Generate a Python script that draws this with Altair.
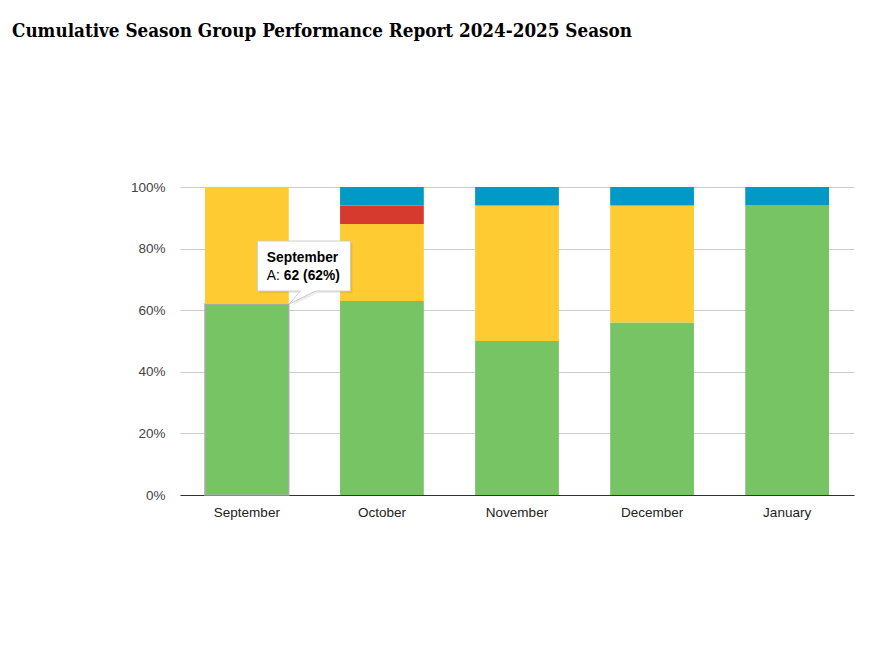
import altair as alt
import pandas as pd

months = ["September", "October", "November", "December", "January"]
series = ["A", "B", "C", "D"]
colors = ["#77c465", "#fecb32", "#d63a2f", "#019ac6"]
vals_A = [62, 63, 50, 56, 94]
vals_B = [38, 25, 44, 38, 0]
vals_C = [0, 6, 0, 0, 0]
vals_D = [0, 6, 6, 6, 6]

rows = []
for si, (s, vals) in enumerate(zip(series, [vals_A, vals_B, vals_C, vals_D])):
    for m, v in zip(months, vals):
        rows.append({"month": m, "series": s, "value": v, "ord": si})
df = pd.DataFrame(rows)

tip_df = pd.DataFrame([{"month": "September", "y": 0.62,
                        "head": "September", "lab": "A:", "val": "62 (62%)"}])

x_enc = alt.X("month:N", sort=months,
              scale=alt.Scale(paddingInner=0.38, paddingOuter=0.185),
              axis=alt.Axis(title=None, labelAngle=0, labelFont="Liberation Sans",
                            labelFontSize=13.5, labelColor="#222", ticks=False,
                            domainColor="#333", domainWidth=1, labelPadding=10,
                            grid=False))

bars = alt.Chart(df).mark_bar().encode(
    x=x_enc,
    y=alt.Y("value:Q", stack="normalize",
            scale=alt.Scale(domain=[0, 1]),
            axis=alt.Axis(title=None, format=".0%", values=[0, 0.2, 0.4, 0.6, 0.8, 1.0],
                          labelFont="Liberation Sans", labelFontSize=13.5,
                          labelColor="#444", ticks=False, domain=False,
                          gridColor="#ccc", labelPadding=15)),
    color=alt.Color("series:N", scale=alt.Scale(domain=series, range=colors), legend=None),
    order=alt.Order("ord:Q", sort="ascending"),
    stroke=alt.value("#aaaaaa"),
    strokeWidth=alt.condition("datum.month == 'September' && datum.series == 'A'",
                              alt.value(1.5), alt.value(0)),
)

box_path = ("M0.105,-0.63 L1.035,-0.63 L1.035,-0.13 L0.685,-0.13 L0.425,0 "
            "L0.535,-0.13 L0.105,-0.13 Z")

tip_base = alt.Chart(tip_df).encode(
    x=alt.X("month:N", sort=months),
    y=alt.Y("y:Q"),
)
shadow = tip_base.mark_point(shape=box_path, size=40000, filled=True, fill="#000",
                             opacity=0.08, xOffset=2, yOffset=2)
box = tip_base.mark_point(shape=box_path, size=40000, filled=True, fill="white",
                          stroke="#cccccc", strokeWidth=1, opacity=1)
t1 = tip_base.mark_text(align="left", baseline="alphabetic", dx=20, dy=-42,
                        font="Liberation Sans", fontSize=13.8, fontWeight="bold",
                        color="#000").encode(text="head:N")
t2 = tip_base.mark_text(align="left", baseline="alphabetic", dx=20, dy=-24,
                        font="Liberation Sans", fontSize=13.8,
                        color="#000").encode(text="lab:N")
t3 = tip_base.mark_text(align="left", baseline="alphabetic", dx=37, dy=-24,
                        font="Liberation Sans", fontSize=13.8, fontWeight="bold",
                        color="#000").encode(text="val:N")

chart = alt.layer(bars, shadow, box, t1, t2, t3).properties(
    width=674, height=308,
    background="white",
    autosize=alt.AutoSizeParams(type="none"),
    padding={"left": 172, "top": 179, "right": 32, "bottom": 144},
    title=alt.TitleParams(
        "Cumulative Season Group Performance Report 2024-2025 Season",
        anchor="start", frame="group", dx=-168, offset=124,
        font="DejaVu Serif Condensed, Liberation Serif", fontSize=18.7,
        fontWeight="bold", color="#000", baseline="alphabetic"),
).configure_view(stroke=None)

chart.save("out.html", embed_options={"renderer": "svg", "actions": False})
